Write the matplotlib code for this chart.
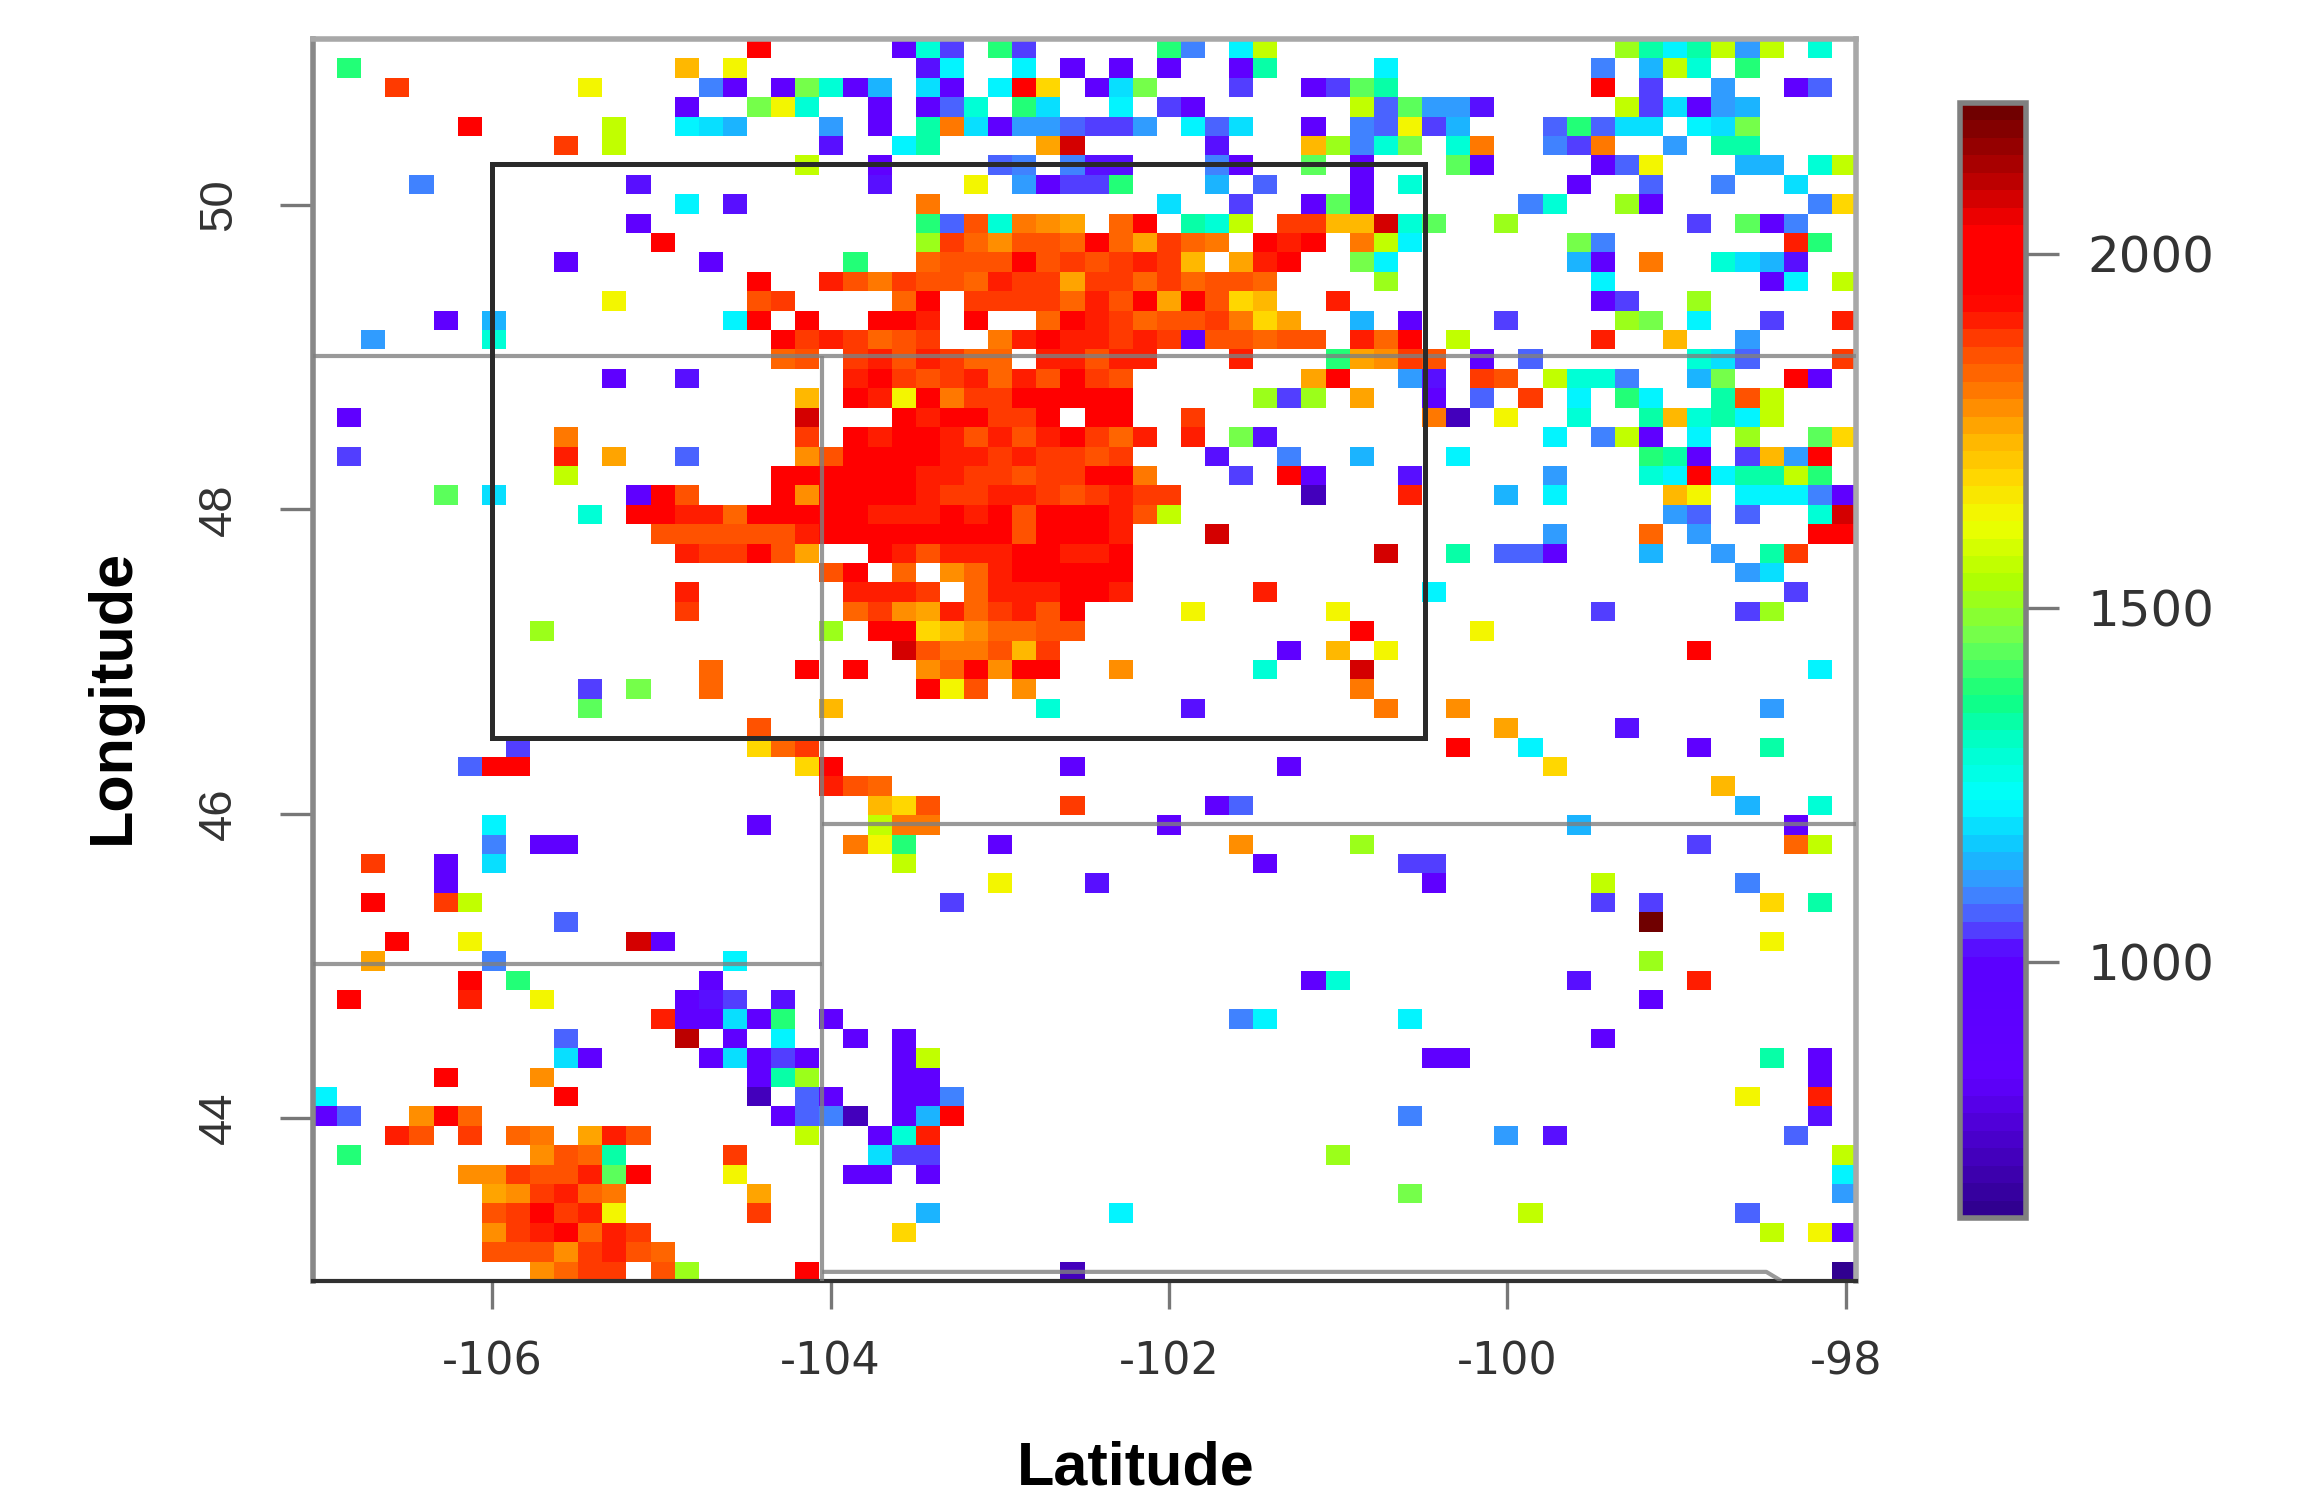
import re
import numpy as np
import matplotlib
matplotlib.use('Agg')
import matplotlib.pyplot as plt
from matplotlib.colors import LinearSegmentedColormap

# elevation value for each letter used in the rows below
level_values = {
    'A': 640, 'B': 730, 'V': 875, 'U': 1024, 'W': 1055, 'M': 1079, 'N': 1103,
    'O': 1126, 'C': 1151, 'D': 1181, 'E': 1225, 'F': 1284, 'G': 1331, 'H': 1378,
    'I': 1433, 'J': 1465, 'K': 1512, 'L': 1567, 'Y': 1624, 'T': 1677, 'S': 1725,
    'Q': 1756, 'P': 1788, 'X': 1811, 'Z': 1835, 'a': 1859, 'b': 1882, 'c': 1914,
    'r': 1977, 'd': 2071, 'e': 2103, 'z': 2190,
}

# one string per grid row, top to bottom: start column followed by a run of letters
grid_rows = [
    "18r 24VFW 28HW 35HN 38EL 54KGEGLOL 62F",
    "1H 15S 17Y 25UE 29E 31V 33V 35V 38VG 44E 53N 55CLF 59H",
    "3b 11Y 16NV 19VJF 22VC 25DV 28ErT 32VDJ 38W 41VW 43IG 53r 55W 58O 61VM",
    "15V 18JYF 23V 25VMF 29HD 33E 35WV 43LMI 46OOU 54LWDVOC",
    "6r 12L 15EDC 21O 23V 25GXDVOOMWWO 36EMD 41V 43NMYWC 51MHMDD 57EDJ",
    "10b 12L 21U 24EG 30Qd 37U 41SKNFJ 47FX 51NWX 56O 58GG",
    "20L 23V 28MN 31NUU 37NV 41I 43V 47IV 53VMY 59CC 62FL",
    "4N 13U 23U 27Y 29OVWWH 37C 39M 43V 45F 52V 55M 58N 61D",
    "15E 17U 25X 35D 38W 41VIV 50NF 54KV 62NT",
    "13V 25HMaFXPQ 33Zr 36GFL 40bbSSd 45FI 49K 57W 59IVN",
    "14r 25KbZPaaZrZQbZX 39rcr 43XLE 52JN 61cH",
    "10V 16V 22H 25ZaaarababcbS 38Qcr 43JE 52CV 55X 58FDCU",
    "18r 21caXbaaZcbbQbbZbZaaZ 44K 53E 60VE 63L",
    "12Y 18ab 24Zr 27bbbbZcarQraTS 42c 53VW 57K",
    "5V 7C 17Er 20r 23rrc 27r 30ZrcbZaabXTQ 43C 45V 49W 54KJ 57E 60W 63c",
    "2O 7F 19rbcbZab 28XcrccbcbVaaZaa 43cZr 47L 53c 56S 59O",
    "19Za 22bcacbZZ 30ccacc 38c 42HQPba 48V 50M 57FDM 63b",
    "12V 15U 22crbabcZcarba 41Qr 45OU 48ba 51LFFN 57CJ 61rV",
    "20S 22rcYrXbbrrrrr 39KWK 43Q 46V 48M 50b 52E 54HE 58GaL",
    "1V 20d 24rcrrbbr 32rr 36b 46XB 49Y 52F 55GSFGEL",
    "10X 20b 22rcrrcacacrbZc 36c 38JU 51E 53NLV 57E 59K 62IT",
    "1W 10c 12Q 15M 20Pa 22rrrrccbcbbab 37U 40N 43C 47E 55HGV 59WSOr",
    "10L 19rrrrrrccbbabbrrX 38W 40rV 45U 51O 55FErEGGLH",
    "5I 7D 13Vra 19rPrrrrcbbccbabcbb 41B 45c 49C 51E 56SY 59EEENV",
    "11F 13rrccZrrrrrcccrcrarrrcaL 56OM 59M 62Fd",
    "14aaaaaacrrrrrrrrarrrc 37d 51O 55Z 57O 62rr",
    "15cbbraQ 23rcacccrrccr 44d 47G 49MMV 55C 58O 60Gb",
    "21ar 24Z 26PZcrrrrr 59OD",
    "15c 22cccb 27Zcccrrc 39c 46E 61W",
    "15b 22ZbPQcZbcar 36Y 42Y 53W 59WK",
    "9K 21K 23rrTSPZZaa 43r 48Y",
    "24daXXaSb 40V 42S 44Y 57r",
    "16Z 20r 22r 25PZrPrr 33P 39F 43d 62E",
    "11W 13J 16Z 25rYa 29P 43X",
    "11I 21S 30F 36U 44X 47P 60O",
    "18a 49Q 54U",
    "8W 18TZb 47r 50E 57V 60G",
    "6Mrr 20Tr 31V 40V 51T",
    "21caZ 58S",
    "23STa 31b 37VM 59C 62F",
    "7E 18V 23LXX 35V 52C 61V",
    "7N 9VV 22XYH 28V 38P 43K 57W 61ZL",
    "2b 5V 7D 24L 39V 45WW",
    "5V 28Y 32U 46V 53L 59N",
    "2r 5bL 26W 53W 55W 60T 62G",
    "10M 55z",
    "3r 6Y 13dV 60Y",
    "2Q 7N 17E 55K",
    "6r 8H 16V 41VF 52U 57c",
    "1r 6c 9Y 15VUW 19U 55V",
    "14cVVDVH 21V 38NE 45E",
    "10M 15e 17V 19E 22V 24V 53V",
    "10DV 16VDVWV 24VL 46VV 60G 62V",
    "5r 9P 18VGK 24VV 62V",
    "0E 10r 18B 20MV 24VVN 59Y 62c",
    "0VM 4PrZ 19VMN 22B 24VCr 45N 62U",
    "3ca 6b 8ZX 11Qca 20L 23VFc 49O 51U 61M",
    "1H 9PaZG 17b 23DWW 42K 63L",
    "6PPbaacIr 17Y 22VV 25V 63E",
    "7QPbcZX 18Q 45J 63O",
    "7abrbcY 18b 25C 33E 50L 59M",
    "7PbcrZcb 24T 60L 62YV",
    "7aaaPbcaZ",
    "9PZbb 14aK 20r 31B 63A",
]

# colour ramp (position 0-1, colour)
ramp_pos = [0, .12, .233, .26, .293, .326, .373, .426, .466, .52, .573, .626,
            .666, .706, .746, .786, .812, .832, .892, .939, 1]
ramp_col = ['#300090', '#6000ff', '#5a00ff', '#5050ff', '#3b90ff', '#10c0ff',
            '#00ffff', '#00ffc8', '#10ff80', '#70ff50', '#b0ff00', '#f0ff00',
            '#ffd800', '#ffb000', '#ff7800', '#ff4800', '#ff1800', '#ff0000',
            '#ff0000', '#b80000', '#700000']
val_min, val_max = 638, 2213

lon_edges = np.linspace(-107.06, -97.94, 65)
lat_edges = np.linspace(51.09, 42.93, 65)

# study box and state borders
box_lon = [-106, -100.49, -100.49, -106, -106]
box_lat = [50.27, 50.27, 46.5, 46.5, 50.27]
border_49_lon, border_49_lat = [-107.06, -97.94], [49.01, 49.01]
border_104_lon, border_104_lat = [-104.05, -104.05], [49.01, 42.93]
border_46_lon, border_46_lat = [-104.05, -97.94], [45.93, 45.93]
border_45_lon, border_45_lat = [-107.06, -104.05], [45.01, 45.01]
border_43_lon, border_43_lat = [-104.05, -98.47, -98.38], [42.99, 42.99, 42.93]

xtick_vals = [-106, -104, -102, -100, -98]
ytick_vals = [44, 46, 48, 50]
cbar_ticks = [1000, 1500, 2000]

# turn the rows into a 2D array
grid = np.full((64, 64), np.nan)
for i, row in enumerate(grid_rows):
    for start, run in re.findall(r'(\d+)([A-Za-z]+)', row):
        for k, code in enumerate(run):
            grid[i, int(start) + k] = level_values[code]

W, H = 2302, 1502
plt.rcParams['font.family'] = ['Liberation Sans', 'DejaVu Sans']
fig = plt.figure(figsize=(W / 100, H / 100), dpi=100)


def px_axes(left, top, right, bottom):
    return fig.add_axes([left / W, 1 - bottom / H, (right - left) / W, (bottom - top) / H])


cmap = LinearSegmentedColormap.from_list('elev', list(zip(ramp_pos, ramp_col)), N=64)

ax = px_axes(313, 39, 1856, 1281)
mesh = ax.pcolormesh(lon_edges, lat_edges, grid, cmap=cmap, vmin=val_min, vmax=val_max,
                     antialiased=False, linewidth=0)
ax.set_xlim(lon_edges[0], lon_edges[-1])
ax.set_ylim(lat_edges[-1], lat_edges[0])

for xs, ys in [(border_49_lon, border_49_lat), (border_104_lon, border_104_lat),
               (border_46_lon, border_46_lat), (border_45_lon, border_45_lat),
               (border_43_lon, border_43_lat)]:
    ax.plot(xs, ys, color='#808080', lw=3, alpha=0.8, solid_capstyle='butt', zorder=3)
ax.plot(box_lon, box_lat, color='#2a2a2a', lw=3.6, solid_joinstyle='miter', zorder=4)

for name, spine in ax.spines.items():
    spine.set_linewidth(4)
    spine.set_color('#a8a8a8')
ax.spines['left'].set_color('#888888')
ax.spines['bottom'].set_color('#303030')
ax.spines['bottom'].set_linewidth(3)

ax.set_xticks(xtick_vals)
ax.set_xticklabels([str(v) for v in xtick_vals], family='DejaVu Sans', fontsize=32, color='#333333')
ax.set_yticks(ytick_vals)
ax.set_yticklabels([str(v) for v in ytick_vals], fontsize=34, color='#333333',
                   rotation=90, va='center')
ax.tick_params(axis='x', length=20, width=2.4, color='#777777', pad=23)
ax.tick_params(axis='y', length=24, width=2.4, color='#777777', pad=28)

ax.set_xlabel('Latitude', fontsize=44, fontweight='bold')
ax.xaxis.set_label_coords(1136 / W, 1 - 1469 / H, transform=fig.transFigure)
ax.set_ylabel('Longitude', fontsize=44, fontweight='bold')
ax.yaxis.set_label_coords(113 / W, 1 - 696 / H, transform=fig.transFigure)
ax.xaxis.label.set_verticalalignment('center')
ax.yaxis.label.set_verticalalignment('center')

cax = px_axes(1960, 103, 2026, 1218)
cbar = fig.colorbar(mesh, cax=cax)
cbar.set_ticks(cbar_ticks)
cbar.set_ticklabels([str(v) for v in cbar_ticks], family='DejaVu Sans', fontsize=36, color='#333333')
cbar.ax.tick_params(length=24, width=2.4, color='#777777', pad=20)
cbar.outline.set_edgecolor('#808080')
cbar.outline.set_linewidth(4)

fig.savefig('out.png', dpi=100)
